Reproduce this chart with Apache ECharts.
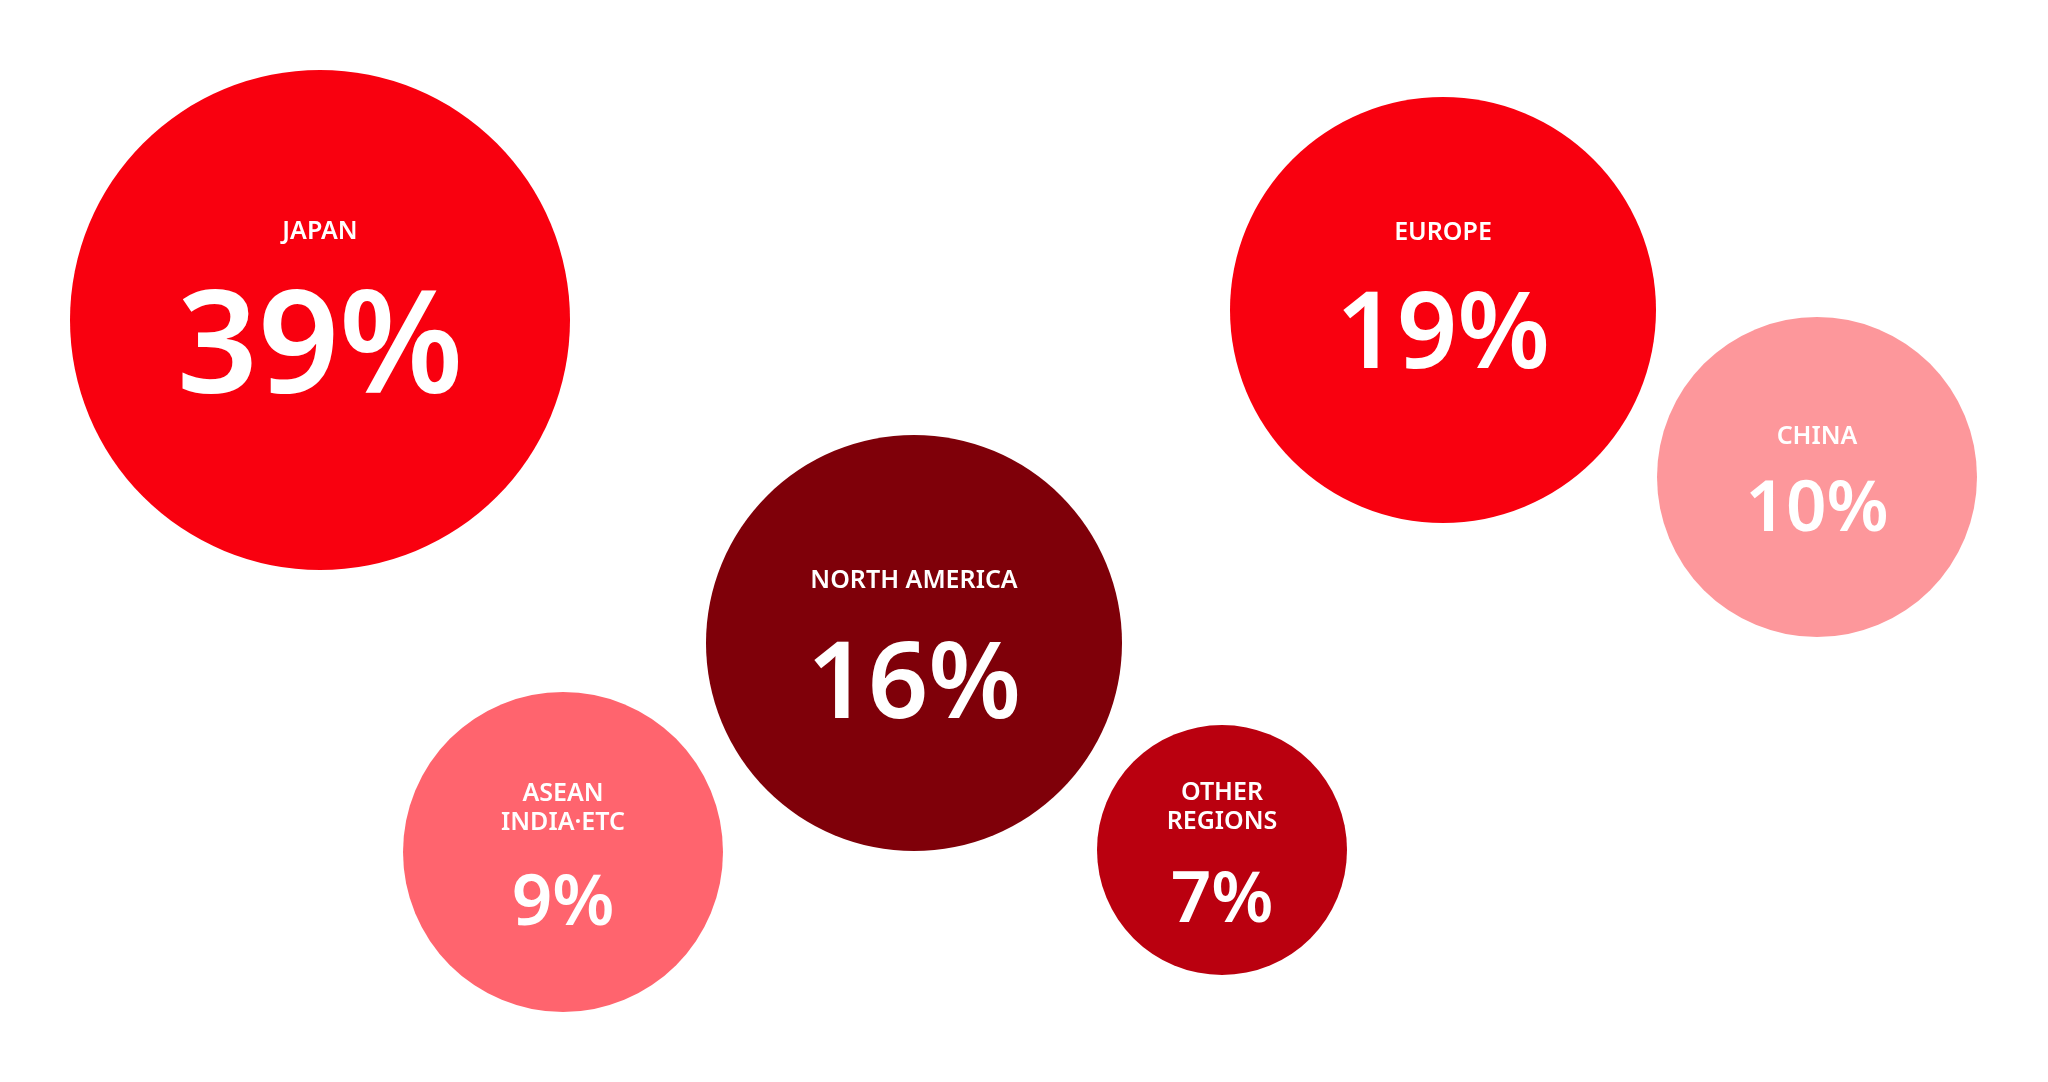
<!DOCTYPE html>
<html>
<head>
<meta charset="utf-8">
<script src="https://cdn.jsdelivr.net/npm/echarts@6/dist/echarts.min.js"></script>
<style>
html,body{margin:0;padding:0;background:#ffffff;}
#chart{width:2048px;height:1082px;}
</style>
</head>
<body>
<div id="chart"></div>
<script>
// ---- data ----
const regions = ['JAPAN', 'EUROPE', 'CHINA', 'NORTH AMERICA', 'ASEAN\nINDIA・ETC', 'OTHER\nREGIONS'];
const shares = [39, 19, 10, 16, 9, 7];

// ---- layout (positions in page pixels, diameters, styles) ----
const centersX = [320, 1443, 1817, 914, 563, 1222];
const centersY = [320, 310, 477, 643, 852, 850];
const diameters = [500, 426, 320, 416, 320, 250];
const colors = ['#F9000F', '#F9000F', '#FD979B', '#7F0009', '#FF646E', '#BA000F'];
const nameOffsets = [-88, -77, -40, -62, -44, -43];
const numOffsets = [33, 28, 34, 45, 53, 52];
const numSizes = [142, 106, 71, 106, 71, 71];

const FONT = '"Noto Sans", "DejaVu Sans", sans-serif';

const circleData = regions.map((r, i) => ({
  value: [centersX[i], centersY[i]],
  name: r,
  symbolSize: diameters[i],
  itemStyle: { color: colors[i], opacity: 1 },
  label: { offset: [0, nameOffsets[i]] }
}));

const numData = regions.map((r, i) => ({
  value: [centersX[i], centersY[i]],
  name: r,
  label: { offset: [0, numOffsets[i]], fontSize: numSizes[i] }
}));

const chart = echarts.init(document.getElementById('chart'), null, { renderer: 'canvas' });
chart.setOption({
  backgroundColor: '#ffffff',
  animation: false,
  grid: { left: 0, right: 0, top: 0, bottom: 0 },
  xAxis: { type: 'value', min: 0, max: 2048, show: false },
  yAxis: { type: 'value', min: 0, max: 1082, inverse: true, show: false },
  series: [
    {
      type: 'scatter',
      symbol: 'circle',
      data: circleData,
      itemStyle: { opacity: 1 },
      label: {
        show: true,
        position: 'inside',
        formatter: p => p.name.replace('・', '·'),
        color: '#ffffff',
        opacity: 1,
        fontFamily: FONT,
        fontWeight: 600,
        fontSize: 25,
        lineHeight: 29,
        align: 'center',
        verticalAlign: 'middle'
      },
      emphasis: { disabled: true },
      z: 2
    },
    {
      type: 'scatter',
      symbol: 'circle',
      symbolSize: 1,
      itemStyle: { color: 'rgba(0,0,0,0)', opacity: 1 },
      data: numData,
      label: {
        show: true,
        position: 'inside',
        formatter: p => shares[p.dataIndex] + '%',
        color: '#ffffff',
        opacity: 1,
        fontFamily: FONT,
        fontWeight: 600,
        align: 'center',
        verticalAlign: 'middle'
      },
      emphasis: { disabled: true },
      z: 3
    }
  ]
});
</script>
</body>
</html>
